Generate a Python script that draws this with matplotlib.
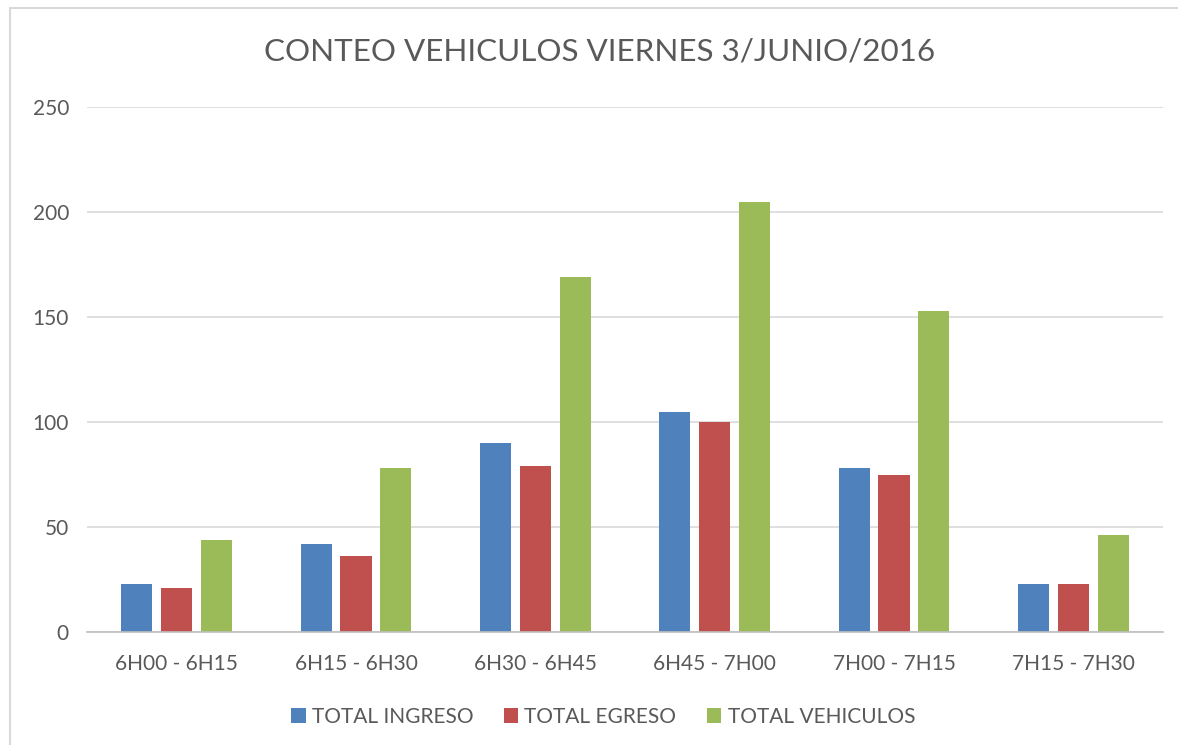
import matplotlib
matplotlib.use("Agg")
import matplotlib.pyplot as plt
import numpy as np
from matplotlib.patches import Rectangle

categories = ["6H00 - 6H15", "6H15 - 6H30", "6H30 - 6H45", "6H45 - 7H00", "7H00 - 7H15", "7H15 - 7H30"]
total_ingreso = [23, 42, 90, 105, 78, 23]
total_egreso = [21, 36, 79, 100, 75, 23]
total_vehiculos = [44, 78, 169, 205, 153, 46]
series_names = ["TOTAL INGRESO", "TOTAL EGRESO", "TOTAL VEHICULOS"]
colors = ["#4F81BD", "#C0504D", "#9BBB59"]
title = "CONTEO VEHICULOS VIERNES 3/JUNIO/2016"

plt.rcParams['font.family'] = ['Lato', 'DejaVu Sans']
txt = "#595959"

fig = plt.figure(figsize=(11.78, 7.45), dpi=100)
ax = fig.add_axes([87/1178, 1-632/745, (1163-87)/1178, (632-107)/745])

x = np.arange(len(categories))
w = 0.173
step = 0.222
for i, (vals, name, c) in enumerate(zip([total_ingreso, total_egreso, total_vehiculos], series_names, colors)):
    ax.bar(x + (i-1)*step, vals, width=w, color=c, label=name, zorder=3)

ax.set_xlim(-0.5, len(categories)-0.5)
ax.set_ylim(0, 250)
ax.set_yticks(range(0, 251, 50))
ax.set_xticks(x)
ax.set_xticklabels(categories)
ax.grid(axis='y', color='#d9d9d9', linewidth=1.2, zorder=0)
for s in ['top', 'right', 'left']:
    ax.spines[s].set_visible(False)
ax.spines['bottom'].set_color('#bfbfbf')
ax.spines['bottom'].set_linewidth(1.2)
ax.spines['bottom'].set_zorder(4)
ax.tick_params(axis='both', length=0, labelsize=15, colors=txt)
ax.tick_params(axis='y', pad=13)
ax.tick_params(axis='x', pad=16)
for lbl in ax.get_yticklabels():
    lbl.set_horizontalalignment('right')

fig.text(600/1178, 1-52/745, title, ha='center', va='center', fontsize=22.6, color=txt)

leg = fig.legend(loc='center', bbox_to_anchor=(603/1178, 1-717/745), ncol=3, frameon=False,
                 fontsize=15, handlelength=0.7, handleheight=0.7, handletextpad=0.3,
                 columnspacing=1.45, labelcolor=txt)

fig.patches.append(Rectangle((10/1178, -0.05), 1.1, 1.05-8/745, transform=fig.transFigure,
                             fill=False, edgecolor='#d9d9d9', linewidth=1.5, zorder=0))

fig.savefig("out.png", dpi=100)
